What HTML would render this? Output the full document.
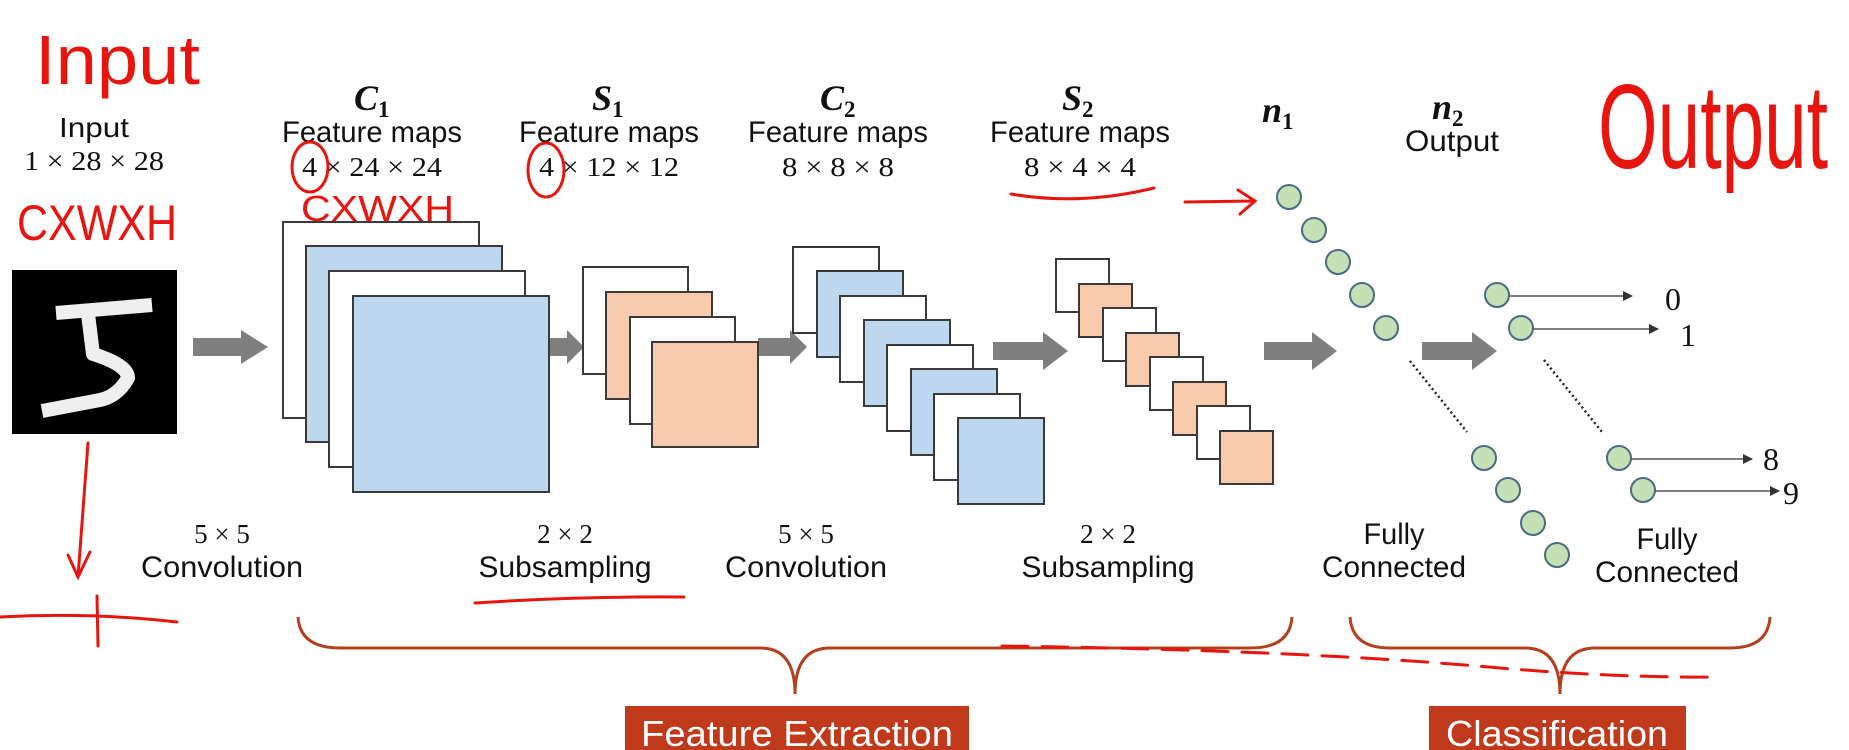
<!DOCTYPE html>
<html><head><meta charset="utf-8"><style>
html,body{margin:0;padding:0;background:#fff;}
svg{display:block;}
.s{font-family:"Liberation Sans",sans-serif;fill:#111;}
.m{font-family:"Liberation Serif",serif;fill:#111;}
.b{font-family:"Liberation Serif",serif;font-weight:bold;font-style:italic;fill:#111;}
.r{font-family:"Liberation Sans",sans-serif;fill:#e8150f;}
</style></head><body>
<svg width="1849" height="750" viewBox="0 0 1849 750" xmlns="http://www.w3.org/2000/svg">
<rect width="1849" height="750" fill="#fff"/>
<defs>
<marker id="ah" markerWidth="10" markerHeight="10" refX="9" refY="5" orient="auto" markerUnits="userSpaceOnUse"><path d="M0,0 L10,5 L0,10 z" fill="#333"/></marker>
</defs>

<g lengthAdjust="spacingAndGlyphs">
<text class="s" x="94" y="137" font-size="28" text-anchor="middle" textLength="70" lengthAdjust="spacingAndGlyphs">Input</text>
<text class="m" x="94" y="170" font-size="27" text-anchor="middle" textLength="140" lengthAdjust="spacingAndGlyphs">1 × 28 × 28</text>

<text class="b" x="354" y="110" font-size="36">C<tspan font-size="23" dy="7" font-style="normal">1</tspan></text>
<text class="s" x="372" y="142" font-size="30" text-anchor="middle" textLength="180" lengthAdjust="spacingAndGlyphs">Feature maps</text>
<text class="m" x="372" y="176" font-size="27" text-anchor="middle" textLength="140" lengthAdjust="spacingAndGlyphs">4 × 24 × 24</text>

<text class="b" x="592" y="110" font-size="36">S<tspan font-size="23" dy="7" font-style="normal">1</tspan></text>
<text class="s" x="609" y="142" font-size="30" text-anchor="middle" textLength="180" lengthAdjust="spacingAndGlyphs">Feature maps</text>
<text class="m" x="609" y="176" font-size="27" text-anchor="middle" textLength="140" lengthAdjust="spacingAndGlyphs">4 × 12 × 12</text>

<text class="b" x="820" y="110" font-size="36">C<tspan font-size="23" dy="7" font-style="normal">2</tspan></text>
<text class="s" x="838" y="142" font-size="30" text-anchor="middle" textLength="180" lengthAdjust="spacingAndGlyphs">Feature maps</text>
<text class="m" x="838" y="176" font-size="27" text-anchor="middle" textLength="112" lengthAdjust="spacingAndGlyphs">8 × 8 × 8</text>

<text class="b" x="1062" y="110" font-size="36">S<tspan font-size="23" dy="7" font-style="normal">2</tspan></text>
<text class="s" x="1080" y="142" font-size="30" text-anchor="middle" textLength="180" lengthAdjust="spacingAndGlyphs">Feature maps</text>
<text class="m" x="1080" y="176" font-size="27" text-anchor="middle" textLength="112" lengthAdjust="spacingAndGlyphs">8 × 4 × 4</text>

<text class="b" x="1262" y="122" font-size="36">n<tspan font-size="23" dy="7" font-style="normal">1</tspan></text>
<text class="b" x="1432" y="119" font-size="36">n<tspan font-size="23" dy="7" font-style="normal">2</tspan></text>
<text class="s" x="1452" y="151" font-size="30" text-anchor="middle" textLength="94" lengthAdjust="spacingAndGlyphs">Output</text>
</g>

<!-- MNIST -->
<rect x="12" y="270" width="165" height="164" fill="#000"/>
<path d="M56,313 L152,305 M88,314 L93,354 Q128,365 128,378 Q118,396 100,400 L42,411" stroke="#eee" stroke-width="14" fill="none" stroke-linejoin="round"/>

<g fill="#7f7f7f">
<path d="M193,338 h48 v-8 l27,17 l-27,17 v-8 h-48z"/>
<path d="M549,338 h18 v-8 l17,17 l-17,17 v-8 h-18z"/>
<path d="M758,338 h32 v-8 l17,17 l-17,17 v-8 h-32z"/>
<path d="M993,342 h50 v-10 l25,19 l-25,19 v-10 h-50z"/>
<path d="M1264,342 h48 v-10 l25,19 l-25,19 v-10 h-48z"/>
<path d="M1422,342 h50 v-10 l25,19 l-25,19 v-10 h-50z"/>
</g>

<g stroke="#3a3a3a" stroke-width="2">
<rect x="283" y="222" width="196" height="196" fill="#fff"/>
<rect x="306" y="246" width="196" height="196" fill="#bdd7ee"/>
<rect x="329" y="271" width="196" height="196" fill="#fff"/>
<rect x="353" y="296" width="196" height="196" fill="#bdd7ee"/>
<rect x="583" y="267" width="105" height="107" fill="#fff"/>
<rect x="606" y="292" width="106" height="107" fill="#f8cbad"/>
<rect x="630" y="317" width="105" height="107" fill="#fff"/>
<rect x="652" y="342" width="106" height="105" fill="#f8cbad"/>
<rect x="793" y="247" width="86" height="86" fill="#fff"/>
<rect x="817" y="271" width="86" height="86" fill="#bdd7ee"/>
<rect x="840" y="296" width="86" height="86" fill="#fff"/>
<rect x="864" y="320" width="86" height="86" fill="#bdd7ee"/>
<rect x="887" y="345" width="86" height="86" fill="#fff"/>
<rect x="911" y="369" width="86" height="86" fill="#bdd7ee"/>
<rect x="934" y="394" width="86" height="86" fill="#fff"/>
<rect x="958" y="418" width="86" height="86" fill="#bdd7ee"/>
<rect x="1056" y="259" width="53" height="53" fill="#fff"/>
<rect x="1079" y="284" width="53" height="53" fill="#f8cbad"/>
<rect x="1103" y="308" width="53" height="53" fill="#fff"/>
<rect x="1126" y="333" width="53" height="53" fill="#f8cbad"/>
<rect x="1150" y="357" width="53" height="53" fill="#fff"/>
<rect x="1173" y="382" width="53" height="53" fill="#f8cbad"/>
<rect x="1197" y="406" width="53" height="53" fill="#fff"/>
<rect x="1220" y="431" width="53" height="53" fill="#f8cbad"/>
</g>

<g fill="#c5e0b4" stroke="#4a6a85" stroke-width="2">
<circle cx="1289" cy="197" r="12"/><circle cx="1314" cy="230" r="12"/><circle cx="1338" cy="262" r="12"/><circle cx="1362" cy="295" r="12"/><circle cx="1386" cy="328" r="12"/>
<circle cx="1484" cy="458" r="12"/><circle cx="1508" cy="490" r="12"/><circle cx="1533" cy="523" r="12"/><circle cx="1557" cy="555" r="12"/>
<circle cx="1497" cy="295" r="12"/><circle cx="1521" cy="328" r="12"/><circle cx="1619" cy="458" r="12"/><circle cx="1643" cy="490" r="12"/>
</g>
<g stroke="#222" stroke-width="2.5" stroke-dasharray="2,3">
<line x1="1410" y1="361" x2="1467" y2="432"/>
<line x1="1544" y1="360" x2="1602" y2="432"/>
</g>
<g stroke="#555" stroke-width="1.5" marker-end="url(#ah)">
<line x1="1509" y1="296" x2="1632" y2="296"/>
<line x1="1533" y1="329" x2="1658" y2="329"/>
<line x1="1631" y1="459" x2="1752" y2="459"/>
<line x1="1655" y1="491" x2="1779" y2="491"/>
</g>
<text class="m" x="1665" y="310" font-size="32">0</text>
<text class="m" x="1680" y="346" font-size="32">1</text>
<text class="m" x="1763" y="470" font-size="32">8</text>
<text class="m" x="1783" y="504" font-size="32">9</text>

<text class="m" x="222" y="543" font-size="27" text-anchor="middle">5 × 5</text>
<text class="s" x="222" y="577" font-size="30" text-anchor="middle" textLength="162" lengthAdjust="spacingAndGlyphs">Convolution</text>
<text class="m" x="565" y="543" font-size="27" text-anchor="middle">2 × 2</text>
<text class="s" x="565" y="577" font-size="30" text-anchor="middle" textLength="173" lengthAdjust="spacingAndGlyphs">Subsampling</text>
<text class="m" x="806" y="543" font-size="27" text-anchor="middle">5 × 5</text>
<text class="s" x="806" y="577" font-size="30" text-anchor="middle" textLength="162" lengthAdjust="spacingAndGlyphs">Convolution</text>
<text class="m" x="1108" y="543" font-size="27" text-anchor="middle">2 × 2</text>
<text class="s" x="1108" y="577" font-size="30" text-anchor="middle" textLength="173" lengthAdjust="spacingAndGlyphs">Subsampling</text>
<text class="s" x="1394" y="544" font-size="30" text-anchor="middle" textLength="61" lengthAdjust="spacingAndGlyphs">Fully</text>
<text class="s" x="1394" y="577" font-size="30" text-anchor="middle" textLength="144" lengthAdjust="spacingAndGlyphs">Connected</text>
<text class="s" x="1667" y="549" font-size="30" text-anchor="middle" textLength="61" lengthAdjust="spacingAndGlyphs">Fully</text>
<text class="s" x="1667" y="582" font-size="30" text-anchor="middle" textLength="144" lengthAdjust="spacingAndGlyphs">Connected</text>

<g stroke="#b5401f" stroke-width="3" fill="none">
<path d="M298,617 Q300,648 340,648 L760,648 Q795,648 795,694 Q795,648 830,648 L1250,648 Q1290,648 1292,617"/>
<path d="M1350,617 Q1352,648 1390,648 L1525,648 Q1560,648 1560,694 Q1560,648 1595,648 L1730,648 Q1768,648 1770,617"/>
</g>
<rect x="625" y="706" width="344" height="50" fill="#c0391b"/>
<text x="797" y="746" font-family="Liberation Sans, sans-serif" font-size="36" fill="#fff" text-anchor="middle" textLength="312" lengthAdjust="spacingAndGlyphs">Feature Extraction</text>
<rect x="1429" y="706" width="257" height="50" fill="#c0391b"/>
<text x="1557" y="746" font-family="Liberation Sans, sans-serif" font-size="36" fill="#fff" text-anchor="middle" textLength="222" lengthAdjust="spacingAndGlyphs">Classification</text>

<g stroke="#e8150f" stroke-width="3" fill="none" stroke-linecap="round">
<ellipse cx="310" cy="167" rx="18" ry="25"/>
<ellipse cx="546" cy="170" rx="18" ry="27"/>
<path d="M88,443 L78,577 M68,555 L78,577 L90,552"/>
<path d="M0,617 Q90,612 177,622 M97,596 L98,646"/>
<path d="M475,603 Q580,596 684,597"/>
<path d="M1011,194 Q1080,206 1154,188"/>
<path d="M1185,202 L1252,201 M1238,190 L1255,201 L1240,214"/>
<path d="M1002,646 Q1300,650 1500,668 Q1620,678 1721,677" stroke-dasharray="26,14"/>
</g>
<text class="r" x="35" y="84" font-size="70" textLength="165" lengthAdjust="spacingAndGlyphs">Input</text>
<text class="r" x="17" y="240" font-size="50" textLength="160" lengthAdjust="spacingAndGlyphs">CXWXH</text>
<text class="r" x="301" y="221" font-size="36" textLength="153" lengthAdjust="spacingAndGlyphs">CXWXH</text>
<text class="r" x="1598" y="168" font-size="120" textLength="230" lengthAdjust="spacingAndGlyphs">Output</text>
</svg>
</body></html>
